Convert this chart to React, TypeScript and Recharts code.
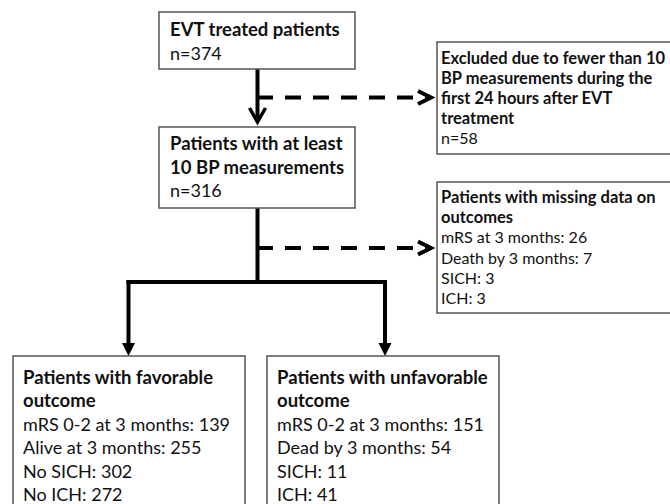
import { ComposedChart, XAxis, YAxis, Scatter, ReferenceLine } from 'recharts';

const W = 670;
const H = 504;
const FONT = 'Lato, "Noto Sans", sans-serif';

// box texts and counts
const startTitle = ['EVT treated patients'];
const startN = 374;
const excludedTitle = ['Excluded due to fewer than 10', 'BP measurements during the', 'first 24 hours after EVT', 'treatment'];
const excludedN = 58;
const includedTitle = ['Patients with at least', '10 BP measurements'];
const includedN = 316;
const missingTitle = ['Patients with missing data on', 'outcomes'];
const missingLabels = ['mRS at 3 months', 'Death by 3 months', 'SICH', 'ICH'];
const missingValues = [26, 7, 3, 3];
const favTitle = ['Patients with favorable', 'outcome'];
const favLabels = ['mRS 0-2 at 3 months', 'Alive at 3 months', 'No SICH', 'No ICH'];
const favValues = [139, 255, 302, 272];
const unfavTitle = ['Patients with unfavorable', 'outcome'];
const unfavLabels = ['mRS 0-2 at 3 months', 'Dead by 3 months', 'SICH', 'ICH'];
const unfavValues = [151, 54, 11, 41];

const pairs = (labels: string[], values: number[]) => labels.map((l, i) => `${l}: ${values[i]}`);

type Box = { x: number; y: number; w: number; h: number; fb: number; fr: number; lh: number; pad: number; px: number };

// layout (chart units == pixels)
const layout: Record<string, Box> = {
  start: { x: 159, y: 12, w: 196, h: 57, fb: 18.5, fr: 18, lh: 23.5, pad: 24, px: 11 },
  excluded: { x: 437, y: 42, w: 260, h: 112, fb: 16.5, fr: 16, lh: 20, pad: 22, px: 4 },
  included: { x: 159, y: 127, w: 196, h: 81, fb: 18.5, fr: 18, lh: 23.5, pad: 23, px: 11 },
  missing: { x: 437, y: 182, w: 260, h: 131, fb: 16.5, fr: 16, lh: 20.2, pad: 21, px: 4 },
  fav: { x: 13, y: 356, w: 232, h: 160, fb: 18.5, fr: 18, lh: 23.4, pad: 28, px: 10 },
  unfav: { x: 267, y: 356, w: 232, h: 160, fb: 18.5, fr: 18, lh: 23.4, pad: 28, px: 10 },
};

const nodes = [
  { id: 'start', bold: startTitle, body: [`n=${startN}`] },
  { id: 'excluded', bold: excludedTitle, body: [`n=${excludedN}`] },
  { id: 'included', bold: includedTitle, body: [`n=${includedN}`] },
  { id: 'missing', bold: missingTitle, body: pairs(missingLabels, missingValues) },
  { id: 'fav', bold: favTitle, body: pairs(favLabels, favValues) },
  { id: 'unfav', bold: unfavTitle, body: pairs(unfavLabels, unfavValues) },
].map((n) => ({ ...n, x: layout[n.id].x, y: layout[n.id].y }));

const solid = [
  [{ x: 257.5, y: 69 }, { x: 257.5, y: 120 }],
  [{ x: 257.5, y: 208 }, { x: 257.5, y: 284 }],
  [{ x: 126.5, y: 282 }, { x: 387, y: 282 }],
  [{ x: 128.5, y: 280 }, { x: 128.5, y: 345 }],
  [{ x: 385, y: 280 }, { x: 385, y: 345 }],
];
const dashed = [
  [{ x: 257, y: 97.5 }, { x: 426, y: 97.5 }],
  [{ x: 257, y: 248 }, { x: 426, y: 248 }],
];
const heads = [
  { x: 257.5, y: 122, kind: 'v' },
  { x: 431, y: 97.5, kind: 'chev' },
  { x: 431, y: 248, kind: 'chev' },
  { x: 128.5, y: 356, kind: 'tri' },
  { x: 385, y: 356, kind: 'tri' },
];

function BoxShape(props: any) {
  const { cx, cy, payload } = props;
  const l = layout[payload.id];
  const lines = [
    ...payload.bold.map((t: string) => ({ t, b: true })),
    ...payload.body.map((t: string) => ({ t, b: false })),
  ];
  return (
    <g>
      <rect x={cx} y={cy} width={l.w} height={l.h} fill="#fff" stroke="#555" strokeWidth={1.5} />
      {lines.map((ln, i) => (
        <text
          key={i}
          x={cx + l.px}
          y={cy + l.pad + i * l.lh}
          fontFamily={FONT}
          fontSize={ln.b ? l.fb : l.fr}
          fontWeight={ln.b ? 700 : 400}
          fill="#111"
        >
          {ln.t}
        </text>
      ))}
    </g>
  );
}

function HeadShape(props: any) {
  const { cx, cy, payload } = props;
  if (payload.kind === 'v')
    return <path d={`M${cx - 8},${cy - 14} L${cx},${cy} L${cx + 8},${cy - 14}`} fill="none" stroke="#000" strokeWidth={3.5} />;
  if (payload.kind === 'chev')
    return <path d={`M${cx - 13},${cy - 6.5} L${cx},${cy} L${cx - 13},${cy + 6.5}`} fill="none" stroke="#000" strokeWidth={4} />;
  return <path d={`M${cx - 6.5},${cy - 13} L${cx + 6.5},${cy - 13} L${cx},${cy} Z`} fill="#000" />;
}

export default function App() {
  return (
    <div style={{ position: 'absolute', left: 0, top: 0, background: '#fff' }}>
      <ComposedChart width={W} height={H} margin={{ top: 0, right: 0, bottom: 0, left: 0 }}>
        <XAxis type="number" dataKey="x" domain={[0, W]} hide allowDataOverflow />
        <YAxis type="number" dataKey="y" domain={[0, H]} reversed hide allowDataOverflow />
        {solid.map((s, i) => (
          <ReferenceLine key={`s${i}`} segment={s} stroke="#000" strokeWidth={4} ifOverflow="visible" />
        ))}
        {dashed.map((s, i) => (
          <ReferenceLine key={`d${i}`} segment={s} stroke="#000" strokeWidth={4} strokeDasharray="16 12" ifOverflow="visible" />
        ))}
        <Scatter data={heads} shape={HeadShape} isAnimationActive={false} />
        <Scatter data={nodes} shape={BoxShape} isAnimationActive={false} />
      </ComposedChart>
    </div>
  );
}
